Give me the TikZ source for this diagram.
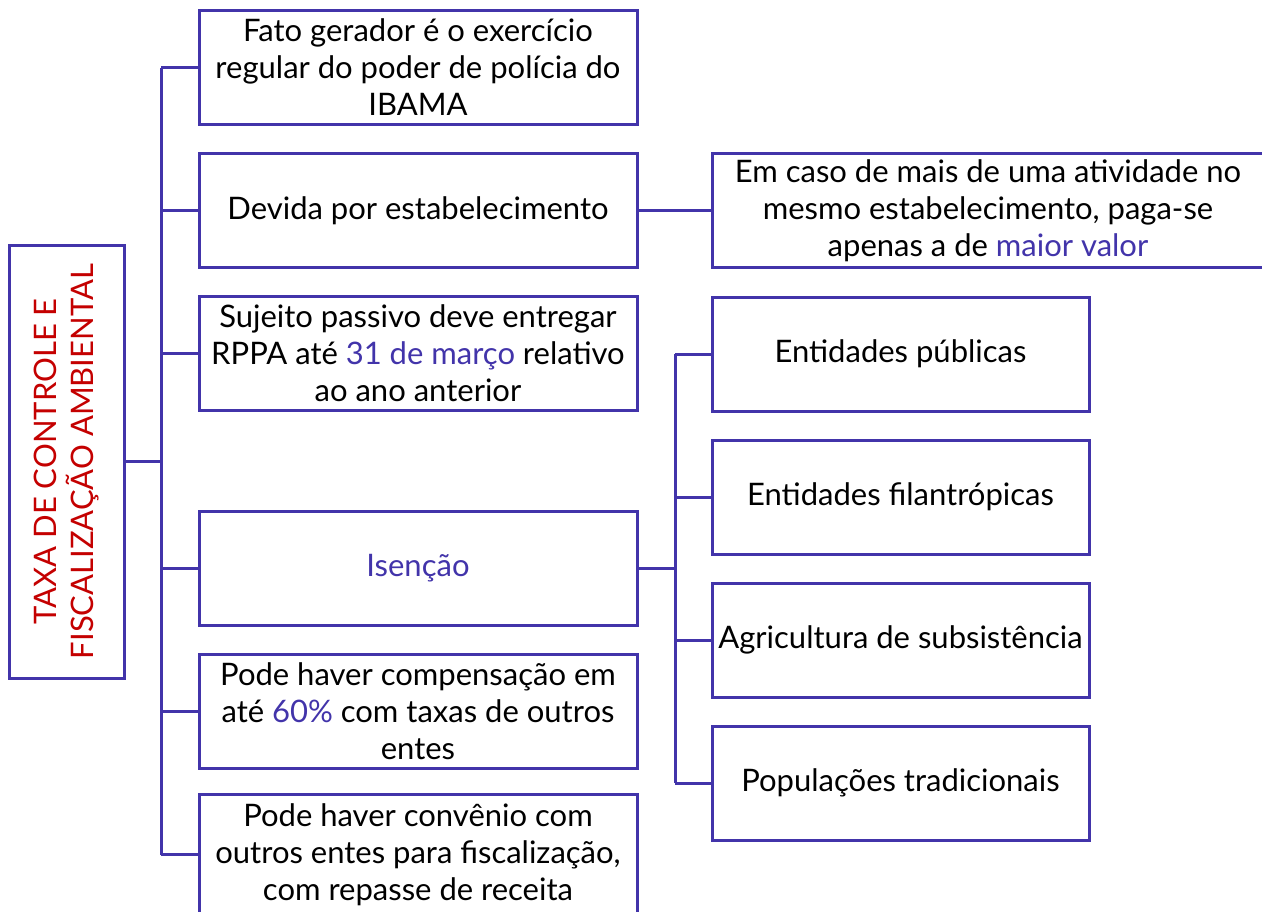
\documentclass[tikz,border=0pt]{standalone}
\usepackage{fontspec}
\setmainfont{Lato}
\definecolor{roxo}{RGB}{66,52,170}
\definecolor{vermelho}{RGB}{196,0,0}
\newcommand{\realce}[1]{\textcolor{roxo}{#1}}

\begin{document}
\begin{tikzpicture}[node distance=143pt,
  caixa/.style={draw=roxo, line width=3pt, align=center, inner sep=0pt, minimum width=438pt, minimum height=114pt, font=\fontsize{31}{37}\selectfont},
  item/.style={caixa, minimum width=377pt},
  ramo/.style={draw=roxo, line width=3pt}]
\useasboundingbox (0,0) rectangle (1262pt,-911pt);
\node[caixa, rotate=90, minimum width=433pt, minimum height=115pt, text=vermelho] (taxa) at (66.5pt,-461.5pt)
{TAXA DE CONTROLE E\\FISCALIZAÇÃO AMBIENTAL};
\node[caixa] (fato) at (418pt,-67.5pt)
{Fato gerador é o exercício\\regular do poder de polícia do\\IBAMA};
\node[caixa, below of=fato] (devida) {Devida por estabelecimento};
\node[caixa, below of=devida] (sujeito)
{Sujeito passivo deve entregar\\RPPA até \realce{31 de março} relativo\\ao ano anterior};
\node[caixa, below of=sujeito, node distance=215pt] (isencao) {\realce{Isenção}};
\node[caixa, below of=isencao] (compensacao)
{Pode haver compensação em\\até \realce{60\%} com taxas de outros\\entes};
\node[caixa, below of=compensacao, minimum height=120pt] (convenio)
{Pode haver convênio com\\outros entes para fiscalização,\\com repasse de receita};
\node[caixa, minimum width=552pt] (maior) at (988pt,-210.5pt)
{Em caso de mais de uma atividade no\\mesmo estabelecimento, paga-se\\apenas a de \realce{maior valor}};
\node[item] (publicas) at (900.5pt,-354pt) {Entidades públicas};
\node[item, below of=publicas] (filantropicas) {Entidades filantrópicas};
\node[item, below of=filantropicas] (agricultura) {Agricultura de subsistência};
\node[item, below of=agricultura] (populacoes) {Populações tradicionais};
\coordinate (tronco) at (161pt,0);
\coordinate (galho) at (675pt,0);
\draw[ramo] (taxa.south) -- (taxa.south -| tronco);
\draw[ramo] (fato.west -| tronco) -- (convenio.west -| tronco);
\foreach \n in {fato,devida,sujeito,isencao,compensacao,convenio}
  \draw[ramo] (\n.west -| tronco) -- (\n.west);
\draw[ramo] (devida.east) -- (maior.west);
\draw[ramo] (isencao.east) -- (isencao.east -| galho);
\draw[ramo] (publicas.west -| galho) -- (populacoes.west -| galho);
\foreach \n in {publicas,filantropicas,agricultura,populacoes}
  \draw[ramo] (\n.west -| galho) -- (\n.west);
\end{tikzpicture}
\end{document}
